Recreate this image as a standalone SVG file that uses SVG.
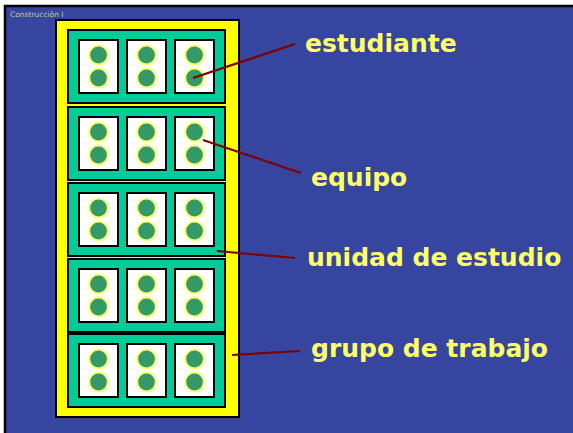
<svg xmlns="http://www.w3.org/2000/svg" width="573" height="433" viewBox="0 0 573 433">
<defs>
<style>
.row{fill:#00cc99;stroke:#000;stroke-width:2}
.box{fill:#fff;stroke:#000;stroke-width:2}
.glow{fill:none;stroke:#ffff66;stroke-width:2.6;opacity:0.9}
.dot{fill:#339966}
.lbl{font-family:"DejaVu Sans",Verdana,sans-serif;font-weight:bold;font-size:25px;fill:#ffff66}
.con{stroke:#800000;stroke-width:2.2;fill:none}
</style>
<g id="unit">
<rect class="box" x="0" y="0" width="39" height="53"/>
<circle class="glow" cx="19.5" cy="15" r="9.2"/>
<circle class="dot" cx="19.5" cy="15" r="8.4"/>
<circle class="glow" cx="19.5" cy="38" r="9.2"/>
<circle class="dot" cx="19.5" cy="38" r="8.4"/>
</g>
<g id="rowtpl">
<rect class="row" x="0" y="0" width="157" height="73"/>
<use href="#unit" x="11" y="10"/>
<use href="#unit" x="59" y="10"/>
<use href="#unit" x="107" y="10"/>
</g>
</defs>
<rect x="0" y="0" width="573" height="433" fill="#fff"/>
<rect x="5" y="6" width="580" height="440" fill="#3646a0" stroke="#000" stroke-width="2.5"/>
<text x="10" y="17" font-family="'DejaVu Sans',sans-serif" font-size="7.5" fill="#c8c89a">Construcción I</text>
<g id="grupo-de-trabajo">
<rect x="56" y="20" width="183" height="397" fill="#ffff00" stroke="#000" stroke-width="2"/>
</g>
<g id="unidad-1"><use href="#rowtpl" x="68" y="30"/></g>
<g id="unidad-2"><use href="#rowtpl" x="68" y="107"/></g>
<g id="unidad-3"><use href="#rowtpl" x="68" y="183"/></g>
<g id="unidad-4"><use href="#rowtpl" x="68" y="259"/></g>
<g id="unidad-5"><use href="#rowtpl" x="68" y="334"/></g>
<g id="connectors">
<line class="con" x1="193" y1="78" x2="295" y2="44"/>
<line class="con" x1="203" y1="140" x2="301" y2="173"/>
<line class="con" x1="217" y1="251" x2="295" y2="258"/>
<line class="con" x1="232" y1="355" x2="300" y2="351"/>
</g>
<g id="label-estudiante"><text class="lbl" x="305" y="52">estudiante</text></g>
<g id="label-equipo"><text class="lbl" x="311" y="186">equipo</text></g>
<g id="label-unidad"><text class="lbl" x="307" y="266">unidad de estudio</text></g>
<g id="label-grupo"><text class="lbl" x="311" y="357">grupo de trabajo</text></g>
</svg>
